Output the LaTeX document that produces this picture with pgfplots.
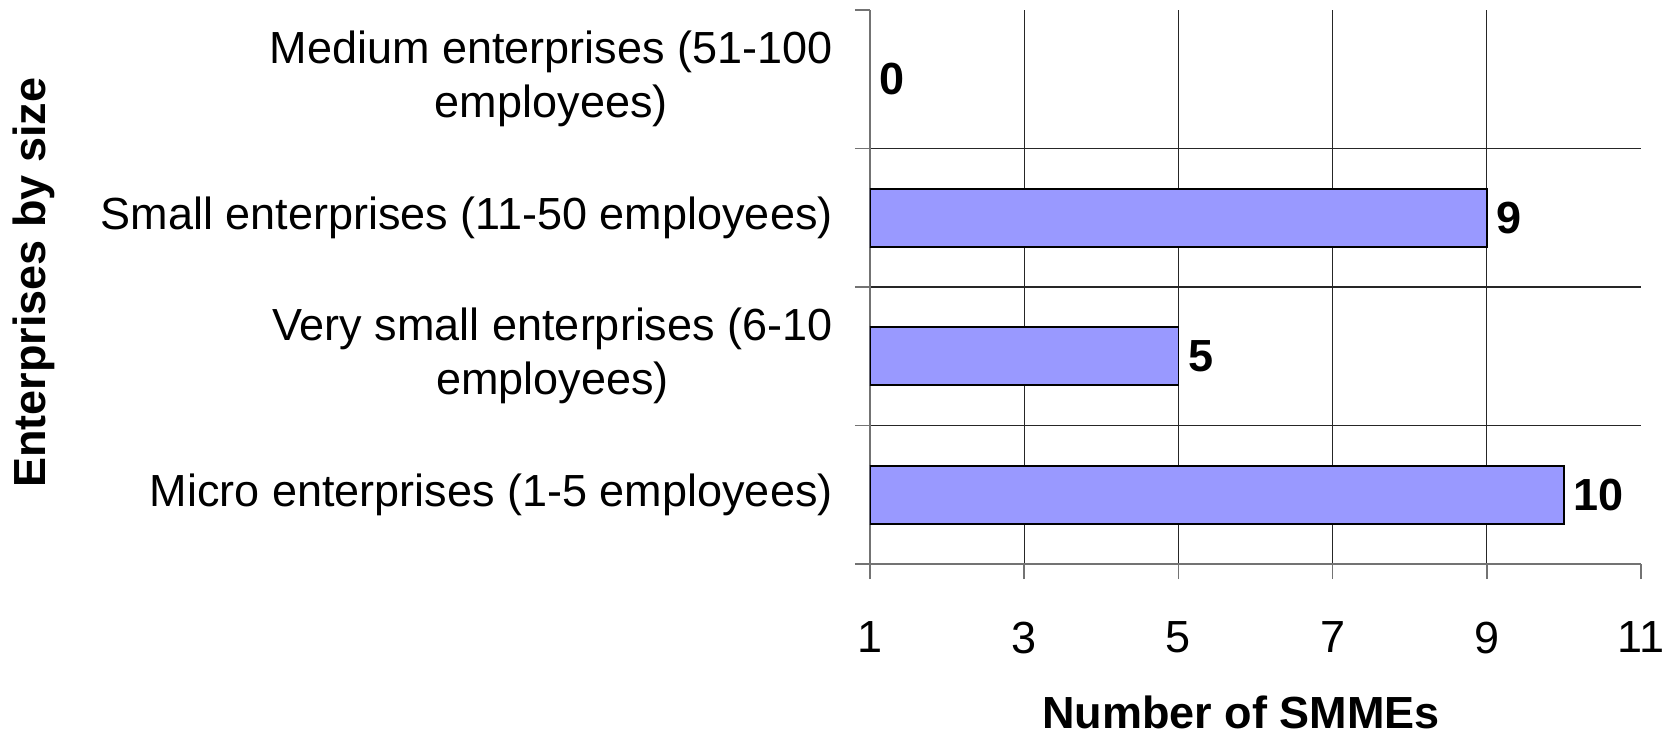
\documentclass[border=0pt]{standalone}
\usepackage{pgfplots}
\pgfplotsset{compat=1.18}
\usepackage{pgfplotstable}
\usepackage{fontspec}
\setmainfont{Liberation Sans}
\definecolor{barblue}{RGB}{153,153,255}
\pgfplotstableread{
y v
0 10
1 5
2 9
3 0
}\datatable
\begin{document}
\fontsize{13.5}{16.2}\selectfont
\begin{tikzpicture}
\path (-261pt,-51.6pt) rectangle (240.9pt,169.2pt);
\begin{axis}[
  at={(0,0)}, anchor=south west,
  scale only axis, width=231.3pt, height=166.2pt,
  xmin=1, xmax=11, ymin=-0.5, ymax=3.5,
  axis x line*=bottom, axis y line*=left,
  axis line style={black!55, line width=0.5pt},
  /pgf/number format/assume math mode=true,
  xtick={1,3,5,7,9}, extra x ticks={11},
  extra x tick style={grid=none},
  xmajorgrids,
  ytick={-0.5,0.5,1.5,2.5}, yticklabels={,,,,}, ymajorgrids,
  minor ytick={3.5},
  extra y ticks={0,1,2,3},
  extra y tick labels={{Micro enterprises (1-5 employees)},{Very small enterprises (6-10\\employees)},{Small enterprises (11-50 employees)},{Medium enterprises (51-100\\employees)}},
  extra y tick style={grid=none, major tick length=0pt, tick style={draw=none},
     yticklabel style={align=center, inner sep=0pt, anchor=east, xshift=-11pt}},
  tick align=outside, major tick length=4.5pt, minor tick length=4.5pt,
  tick style={black!55, line width=0.5pt},
  grid style={black!85, line width=0.35pt},
  xticklabel style={inner sep=0pt, anchor=north},
  xticklabel shift=12.6pt,
  xlabel={\bfseries Number of SMMEs},
  xlabel style={at={(axis description cs:0.481,-0.268)}, anchor=center, inner sep=0pt},
  ylabel={\bfseries Enterprises by size},
  ylabel style={at={(axis description cs:-1.084,0.508)}, anchor=center, inner sep=0pt},
  unbounded coords=discard,
]
\addplot[xbar, bar width=17.4pt, fill=barblue, draw=black, line width=0.5pt,
  x filter/.expression={x<=0 ? nan : x}]
  table[x=v, y=y] {\datatable};
\addplot[draw=none, mark=none, nodes near coords, point meta=explicit,
  every node near coord/.append style={anchor=west, font=\bfseries, inner sep=2.8pt}]
  table[x expr={max(\thisrow{v},1)}, y=y, meta=v] {\datatable};
\end{axis}
\end{tikzpicture}
\end{document}
